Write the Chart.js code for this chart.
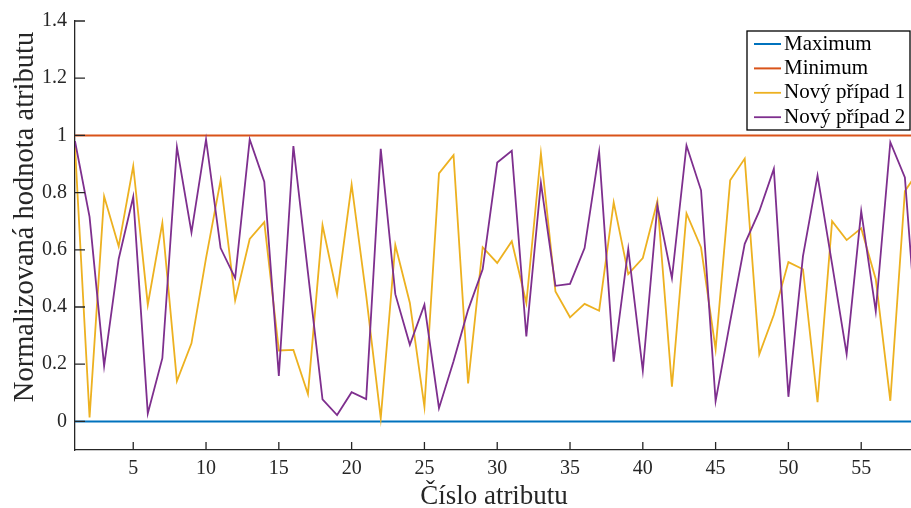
<!DOCTYPE html>
<html>
<head>
<meta charset="utf-8">
<script src="https://cdn.jsdelivr.net/npm/chart.js@4/dist/chart.umd.min.js"></script>
<style>
  html, body { margin: 0; background: #fff; }
  #wrap { width: 911px; height: 508px; }
</style>
</head>
<body>
<div id="wrap"><canvas id="c"></canvas></div>
<script>
// attribute numbers (x) and normalized values per series
const attrs = [1, 2, 3, 4, 5, 6, 7, 8, 9, 10, 11, 12, 13, 14, 15, 16, 17, 18, 19, 20,
  21, 22, 23, 24, 25, 26, 27, 28, 29, 30, 31, 32, 33, 34, 35, 36, 37, 38, 39, 40,
  41, 42, 43, 44, 45, 46, 47, 48, 49, 50, 51, 52, 53, 54, 55, 56, 57, 58, 59];
const maximum = [0, 0, 0, 0, 0, 0, 0, 0, 0, 0, 0, 0, 0, 0, 0, 0, 0, 0, 0, 0,
  0, 0, 0, 0, 0, 0, 0, 0, 0, 0, 0, 0, 0, 0, 0, 0, 0, 0, 0, 0,
  0, 0, 0, 0, 0, 0, 0, 0, 0, 0, 0, 0, 0, 0, 0, 0, 0, 0, 0];
const minimum = [1, 1, 1, 1, 1, 1, 1, 1, 1, 1, 1, 1, 1, 1, 1, 1, 1, 1, 1, 1,
  1, 1, 1, 1, 1, 1, 1, 1, 1, 1, 1, 1, 1, 1, 1, 1, 1, 1, 1, 1,
  1, 1, 1, 1, 1, 1, 1, 1, 1, 1, 1, 1, 1, 1, 1, 1, 1, 1, 1];
const case1 = [0.96, 0.014, 0.787, 0.612, 0.893, 0.408, 0.694, 0.141, 0.273, 0.571,
  0.843, 0.423, 0.638, 0.697, 0.248, 0.25, 0.096, 0.686, 0.445, 0.828,
  0.44, 0.011, 0.617, 0.414, 0.051, 0.867, 0.931, 0.133, 0.609, 0.554,
  0.63, 0.414, 0.937, 0.454, 0.364, 0.411, 0.387, 0.766, 0.515, 0.571,
  0.77, 0.121, 0.727, 0.608, 0.252, 0.843, 0.919, 0.235, 0.373, 0.557,
  0.532, 0.067, 0.7, 0.634, 0.675, 0.497, 0.072, 0.805, 0.88];
const case2 = [0.98, 0.715, 0.194, 0.568, 0.785, 0.028, 0.221, 0.959, 0.661, 0.986,
  0.606, 0.501, 0.986, 0.838, 0.159, 0.963, 0.52, 0.077, 0.022, 0.102,
  0.078, 0.953, 0.445, 0.268, 0.408, 0.046, 0.21, 0.39, 0.532, 0.905,
  0.946, 0.297, 0.834, 0.474, 0.481, 0.606, 0.942, 0.209, 0.603, 0.178,
  0.755, 0.501, 0.965, 0.808, 0.071, 0.35, 0.621, 0.735, 0.883, 0.086,
  0.578, 0.86, 0.55, 0.235, 0.735, 0.385, 0.976, 0.853, 0.18];
const xTicks = [5, 10, 15, 20, 25, 30, 35, 40, 45, 50, 55];
const yTicks = [0, 0.2, 0.4, 0.6, 0.8, 1, 1.2, 1.4];
const xLabel = 'Číslo atributu';
const yLabel = 'Normalizovaná hodnota atributu';

const FONT = "'Liberation Serif', 'Times New Roman', serif";
const AXIS = '#262626';
const pts = (ys) => ys.map((y, i) => ({ x: attrs[i], y }));

// MATLAB-style ticks pointing into the plot
const inwardTicks = {
  id: 'inwardTicks',
  afterDraw(chart) {
    const { ctx, chartArea: a, scales: { x, y } } = chart;
    ctx.save();
    ctx.strokeStyle = AXIS; ctx.lineWidth = 1.3;
    ctx.beginPath();
    x.ticks.forEach((t) => { const px = x.getPixelForValue(t.value); ctx.moveTo(px, a.bottom); ctx.lineTo(px, a.bottom - 8); });
    y.ticks.forEach((t) => { const py = y.getPixelForValue(t.value); ctx.moveTo(a.left, py); ctx.lineTo(a.left + 10, py); });
    ctx.stroke();
    ctx.restore();
  },
};

// axis titles placed by hand (the y one sits above the axis centre in the original)
const axisTitles = {
  id: 'axisTitles',
  afterDraw(chart) {
    const { ctx } = chart;
    ctx.save();
    ctx.fillStyle = AXIS;
    ctx.textAlign = 'center'; ctx.textBaseline = 'alphabetic';
    ctx.font = '27px ' + FONT;
    ctx.fillText(xLabel, 494, 504);
    ctx.translate(33, 217);
    ctx.rotate(-Math.PI / 2);
    ctx.font = '28.5px ' + FONT;
    ctx.fillText(yLabel, 0, 0);
    ctx.restore();
  },
};

// boxed legend in the top-right corner
const boxLegend = {
  id: 'boxLegend',
  afterDraw(chart) {
    const { ctx } = chart;
    const bx = 747, by = 31, bw = 163, bh = 99;
    ctx.save();
    ctx.fillStyle = '#fff';
    ctx.fillRect(bx, by, bw, bh);
    ctx.strokeStyle = '#000'; ctx.lineWidth = 1.3;
    ctx.strokeRect(bx, by, bw, bh);
    ctx.font = '21px ' + FONT;
    ctx.textBaseline = 'middle';
    chart.data.datasets.forEach((ds, i) => {
      const cy = 44 + i * 24.4;
      ctx.strokeStyle = ds.borderColor; ctx.lineWidth = ds.borderWidth;
      ctx.beginPath(); ctx.moveTo(754, cy); ctx.lineTo(781, cy); ctx.stroke();
      ctx.fillStyle = '#000';
      ctx.fillText(ds.label, 784, cy);
    });
    ctx.restore();
  },
};

const line = (label, data, color, order, w) => ({
  label, data: pts(data), borderColor: color, backgroundColor: color,
  borderWidth: w, pointRadius: 0, tension: 0, fill: false, order,
});

new Chart(document.getElementById('c'), {
  type: 'line',
  data: {
    datasets: [
      line('Maximum', maximum, '#0072BD', 3, 2),
      line('Minimum', minimum, '#D95319', 2, 2),
      line('Nový případ 1', case1, '#EDB120', 1, 1.8),
      line('Nový případ 2', case2, '#7E2F8E', 0, 1.8),
    ],
  },
  options: {
    responsive: true, maintainAspectRatio: false, animation: false, devicePixelRatio: 1,
    layout: { padding: { top: 21, right: 0, left: 0, bottom: 0 } },
    plugins: { legend: { display: false }, tooltip: { enabled: false } },
    scales: {
      x: {
        type: 'linear', min: 1, max: 58.42,
        afterBuildTicks: (s) => { s.ticks = xTicks.map((v) => ({ value: v })); },
        afterFit: (s) => { s.height = 58; },
        grid: { display: false, drawTicks: false },
        border: { display: true, color: AXIS, width: 1.3 },
        ticks: { color: AXIS, font: { family: FONT, size: 20 }, padding: 7, maxRotation: 0, autoSkip: false },
      },
      y: {
        type: 'linear', min: -0.1, max: 1.4,
        afterBuildTicks: (s) => { s.ticks = yTicks.map((v) => ({ value: v })); },
        afterFit: (s) => { s.width = 75; },
        grid: { display: false, drawTicks: false },
        border: { display: true, color: AXIS, width: 1.3 },
        ticks: { color: AXIS, font: { family: FONT, size: 20 }, padding: 8,
          callback: (v) => String(Math.round(v * 10) / 10) },
      },
    },
  },
  plugins: [inwardTicks, axisTitles, boxLegend],
});
</script>
</body>
</html>
